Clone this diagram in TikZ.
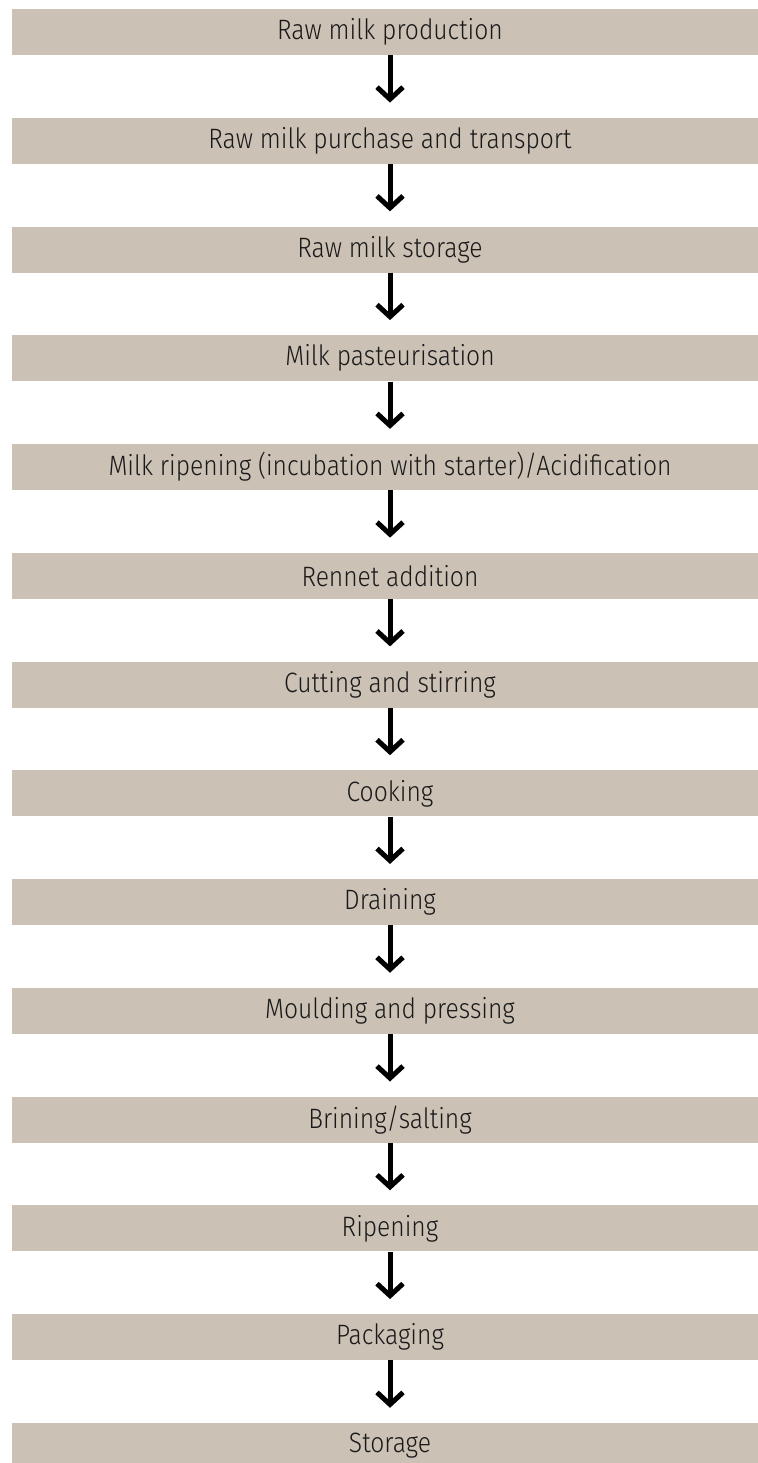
\documentclass[tikz,border=0pt]{standalone}
\usepackage{fontspec}
\setmainfont{Fira Sans Light}[FakeStretch=0.88]
\usetikzlibrary{arrows.meta}
\definecolor{boxfill}{RGB}{203,193,181}
\tikzset{
  stepbox/.style={fill=boxfill, draw=none, minimum width=756pt, minimum height=46pt,
    inner sep=0pt, align=center, font=\fontsize{28}{32}\selectfont, text=black!90},
  flowarrow/.style={line width=5pt, draw=black, shorten >=15pt,
    -{Straight Barb[length=12pt,width=26pt]}}
}
\begin{document}
\begin{tikzpicture}[x=1pt,y=1pt]
\useasboundingbox (0,0) rectangle (757,-1463);
\foreach \t [count=\i] in {Raw milk production, Raw milk purchase and transport,
  Raw milk storage, Milk pasteurisation,
  Milk ripening (incubation with starter)/Acidification, Rennet addition,
  Cutting and stirring, Cooking, Draining, Moulding and pressing,
  Brining/salting, Ripening, Packaging, Storage}{
  \node[stepbox] (n\i) at (390,{-32-(\i-1)*108.77}) {\t};
}
\foreach \i [evaluate=\i as \j using int(\i+1)] in {1,...,13}{
  \draw[flowarrow] (n\i.south) -- (n\j.north);
}
\end{tikzpicture}
\end{document}
